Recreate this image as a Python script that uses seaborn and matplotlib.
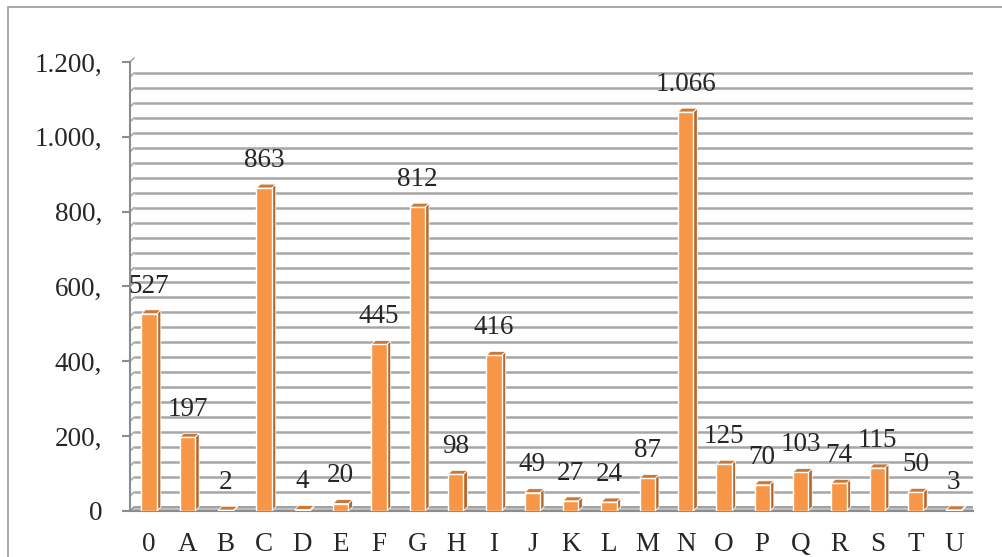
import numpy as np
import pandas as pd
import matplotlib
matplotlib.use('Agg')
import matplotlib.pyplot as plt
import matplotlib.transforms as mtransforms
from matplotlib.patches import Polygon, Rectangle
import seaborn as sns

categories = ['0', 'A', 'B', 'C', 'D', 'E', 'F', 'G', 'H', 'I', 'J',
              'K', 'L', 'M', 'N', 'O', 'P', 'Q', 'R', 'S', 'T', 'U']
values = [527, 197, 2, 863, 4, 20, 445, 812, 98, 416, 49,
          27, 24, 87, 1066, 125, 70, 103, 74, 115, 50, 3]
y_ticks = [0, 200, 400, 600, 800, 1000, 1200]
y_tick_labels = ['0', '200,', '400,', '600,', '800,', '1.000,', '1.200,']

FRONT = '#F79646'
SIDE = '#B2682D'
TOP = '#C97838'
GRID = '#A6A6A6'
AXIS = '#8C8C8C'
DX, DY = 4, 4  # 3d depth in pixels
FS = 19.5

sns.set_theme(style='white')
plt.rcParams['font.family'] = ['Liberation Serif', 'DejaVu Serif']

df = pd.DataFrame({'cat': categories, 'val': values})

fig = plt.figure(figsize=(10.03, 5.57), dpi=100)
ax = fig.add_axes([130 / 1003, 46 / 557, 843 / 1003, 449 / 557])

# outer frame
fig.patches.append(Rectangle((8 / 1003, -0.1), 1.2, (557 - 7) / 557 + 0.1,
                             transform=fig.transFigure, fill=False,
                             edgecolor='#9A9A9A', lw=1.2))

sns.barplot(data=df, x='cat', y='val', color=FRONT, width=0.4,
            edgecolor='white', linewidth=1.0, saturation=1, ax=ax, zorder=5)

ax.set_xlim(-0.5, len(categories) - 0.5)
ax.set_ylim(0, 1200)

back = mtransforms.offset_copy(ax.transData, fig=fig, x=DX, y=DY, units='dots')
ident = mtransforms.IdentityTransform()

# back wall gridlines (minor unit 40)
for v in np.arange(0, 1201, 40):
    ax.plot([-0.5, len(categories) - 0.5], [v, v], color=GRID, lw=1.8,
            transform=back, zorder=1, solid_capstyle='butt')
    ax.annotate('', xy=(-0.5, v), xycoords='data', xytext=(DX, DY),
                textcoords='offset pixels',
                arrowprops=dict(arrowstyle='-', color=GRID, lw=1.2,
                                shrinkA=0, shrinkB=0), zorder=1)

# floor
x0, y0 = ax.transData.transform((-0.5, 0))
x1, _ = ax.transData.transform((len(categories) - 0.5, 0))
ax.add_patch(Polygon([(x0, y0), (x1, y0), (x1 + DX, y0 + DY), (x0 + DX, y0 + DY)],
                     closed=True, transform=ident, facecolor='#BFBFBF',
                     edgecolor=AXIS, lw=0.8, zorder=2))

# 3d faces of bars
for p in ax.containers[0]:
    bx, by = p.get_x(), p.get_y()
    bw, bh = p.get_width(), p.get_height()
    (lx, ly) = ax.transData.transform((bx, by))
    (rx, ty) = ax.transData.transform((bx + bw, by + bh))
    side = [(rx, ly), (rx, ty), (rx + DX, ty + DY), (rx + DX, ly + DY)]
    top = [(lx, ty), (rx, ty), (rx + DX, ty + DY), (lx + DX, ty + DY)]
    ax.add_patch(Polygon(side, closed=True, transform=ident, facecolor=SIDE,
                         edgecolor='white', lw=0.6, zorder=4))
    ax.add_patch(Polygon(top, closed=True, transform=ident, facecolor=TOP,
                         edgecolor='white', lw=0.6, zorder=4))

labels = [f'{v:,}'.replace(',', '.') for v in values]
ax.bar_label(ax.containers[0], labels=labels, padding=11, fontsize=FS, zorder=6)

ax.set_yticks(y_ticks)
ax.set_yticklabels(y_tick_labels, fontsize=FS)
ax.set_xticks(range(len(categories)))
ax.set_xticklabels(categories, fontsize=FS)
ax.set_xticks(np.arange(-0.5, len(categories), 1), minor=True)
ax.tick_params(axis='x', which='major', length=0, pad=15)
ax.tick_params(axis='x', which='minor', length=6, width=1.5, color=AXIS, direction='out')
ax.tick_params(axis='y', length=6, width=1.5, color=AXIS, pad=14, left=True, direction='out')
ax.set_xlabel('')
ax.set_ylabel('')
ax.grid(False)

for s in ['top', 'right']:
    ax.spines[s].set_visible(False)
ax.spines['left'].set_color(AXIS)
ax.spines['left'].set_linewidth(1.5)
ax.spines['bottom'].set_color(AXIS)
ax.spines['bottom'].set_linewidth(1.5)
ax.patch.set_visible(False)

fig.savefig('out.png', dpi=100)
